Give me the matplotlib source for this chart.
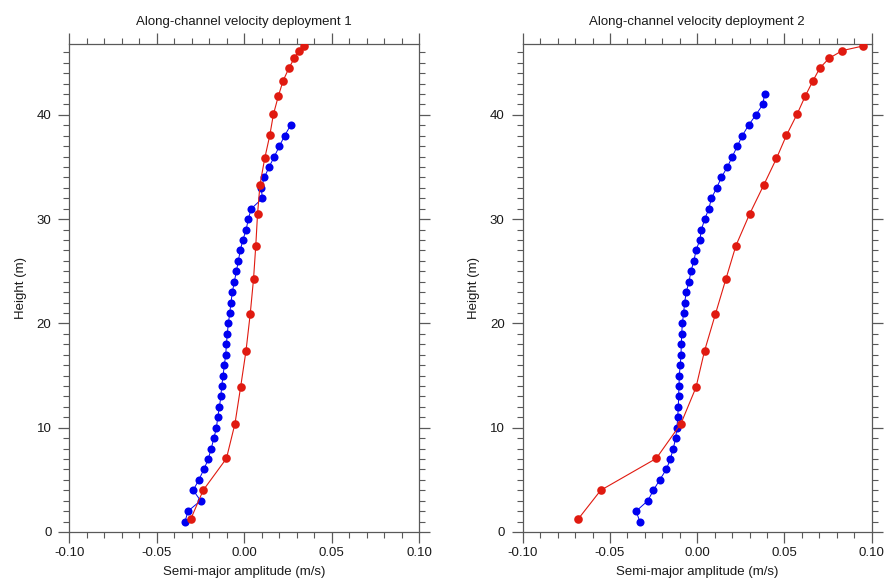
import numpy as np
import matplotlib
matplotlib.use('Agg')
import matplotlib.pyplot as plt
from matplotlib.ticker import MultipleLocator

plt.rcParams['font.family'] = ['Liberation Sans', 'DejaVu Sans']

# blue profiles: one point per metre
blue_h1 = list(range(1, 40))
blue_v1 = [-0.0339, -0.0322, -0.0250, -0.0292, -0.0260, -0.0231, -0.0206, -0.0189, -0.0174, -0.0159,
           -0.0152, -0.0142, -0.0134, -0.0129, -0.0121, -0.0114, -0.0106, -0.0102, -0.0097, -0.0091,
           -0.0083, -0.0076, -0.0068, -0.0057, -0.0045, -0.0034, -0.0023, -0.0008, 0.0011, 0.0023,
           0.0040, 0.0104, 0.0097, 0.0115, 0.0142, 0.0172, 0.0201, 0.0231, 0.0265]

blue_h2 = list(range(1, 43))
blue_v2 = [-0.0329, -0.0350, -0.0283, -0.0251, -0.0215, -0.0177, -0.0154, -0.0137, -0.0124, -0.0116,
           -0.0112, -0.0108, -0.0107, -0.0104, -0.0103, -0.0097, -0.0093, -0.0091, -0.0089, -0.0085,
           -0.0078, -0.0072, -0.0063, -0.0047, -0.0036, -0.0019, -0.0007, 0.0015, 0.0024, 0.0043,
           0.0067, 0.0081, 0.0112, 0.0138, 0.0173, 0.0201, 0.0230, 0.0258, 0.0294, 0.0336,
           0.0376, 0.0386]

# red profiles on stretched levels
red_h = [1.2, 4.0, 7.05, 10.4, 13.87, 17.37, 20.88, 24.24, 27.47, 30.48,
         33.3, 35.82, 38.03, 40.06, 41.8, 43.26, 44.5, 45.43, 46.17, 46.6]
red_v1 = [-0.0307, -0.0235, -0.0102, -0.0053, -0.0021, 0.0010, 0.0034, 0.0053, 0.0066, 0.0076,
          0.0090, 0.0117, 0.0146, 0.0167, 0.0195, 0.0222, 0.0256, 0.0286, 0.0313, 0.0341]
red_v2 = [-0.0684, -0.0553, -0.0235, -0.0093, -0.0007, 0.0042, 0.0104, 0.0164, 0.0222, 0.0300,
          0.0382, 0.0454, 0.0511, 0.0572, 0.0619, 0.0663, 0.0703, 0.0756, 0.0832, 0.0948]

titles = ['Along-channel velocity deployment 1', 'Along-channel velocity deployment 2']
xticks = [-0.10, -0.05, 0.00, 0.05, 0.10]
xticklabels = ['-0.10', '-0.05', '0.00', '0.05', '0.10']
yticks = [0, 10, 20, 30, 40]

fig = plt.figure(figsize=(8.84, 5.78), dpi=100)
ax1 = fig.add_axes([0.0786, 0.0796, 0.3954, 0.8443])
ax2 = fig.add_axes([0.5913, 0.0796, 0.3948, 0.8443])

panels = [(ax1, blue_v1, blue_h1, red_v1), (ax2, blue_v2, blue_h2, red_v2)]
for i, (ax, bv, bh, rv) in enumerate(panels):
    ax.plot(bv, bh, color='#0000f0', lw=0.7, marker='o', ms=5.8, mec='none', zorder=3)
    ax.plot(rv, red_h, color='#e01a10', lw=0.8, marker='o', ms=6.2, mec='none', zorder=4)

    ax.set_xlim(-0.10, 0.10)
    ax.set_ylim(0, 46.8)
    ax.set_xticks(xticks)
    ax.set_xticklabels(xticklabels)
    ax.set_yticks(yticks)
    ax.xaxis.set_minor_locator(MultipleLocator(0.01))
    ax.yaxis.set_minor_locator(MultipleLocator(1))
    ax.tick_params(which='both', direction='out', top=True, right=True, color='0.35',
                   labelsize=9.5, labelcolor='0.1')
    ax.tick_params(which='major', length=8, width=0.9)
    ax.tick_params(which='minor', length=4.3, width=0.8)
    ax.tick_params(axis='y', pad=5)
    ax.tick_params(axis='x', pad=2.5)
    for s in ax.spines.values():
        s.set_color('0.35')
        s.set_linewidth(0.9)

    ax.set_xlabel('Semi-major amplitude (m/s)', fontsize=9.5, color='0.1', labelpad=5)
    ax.set_ylabel('Height (m)', fontsize=9.5, color='0.1', labelpad=7)
    ax.text(0.5, 1.046, titles[i], transform=ax.transAxes, ha='center', va='center',
            fontsize=9.5, color='0.1')

fig.savefig('out.png', dpi=100)
